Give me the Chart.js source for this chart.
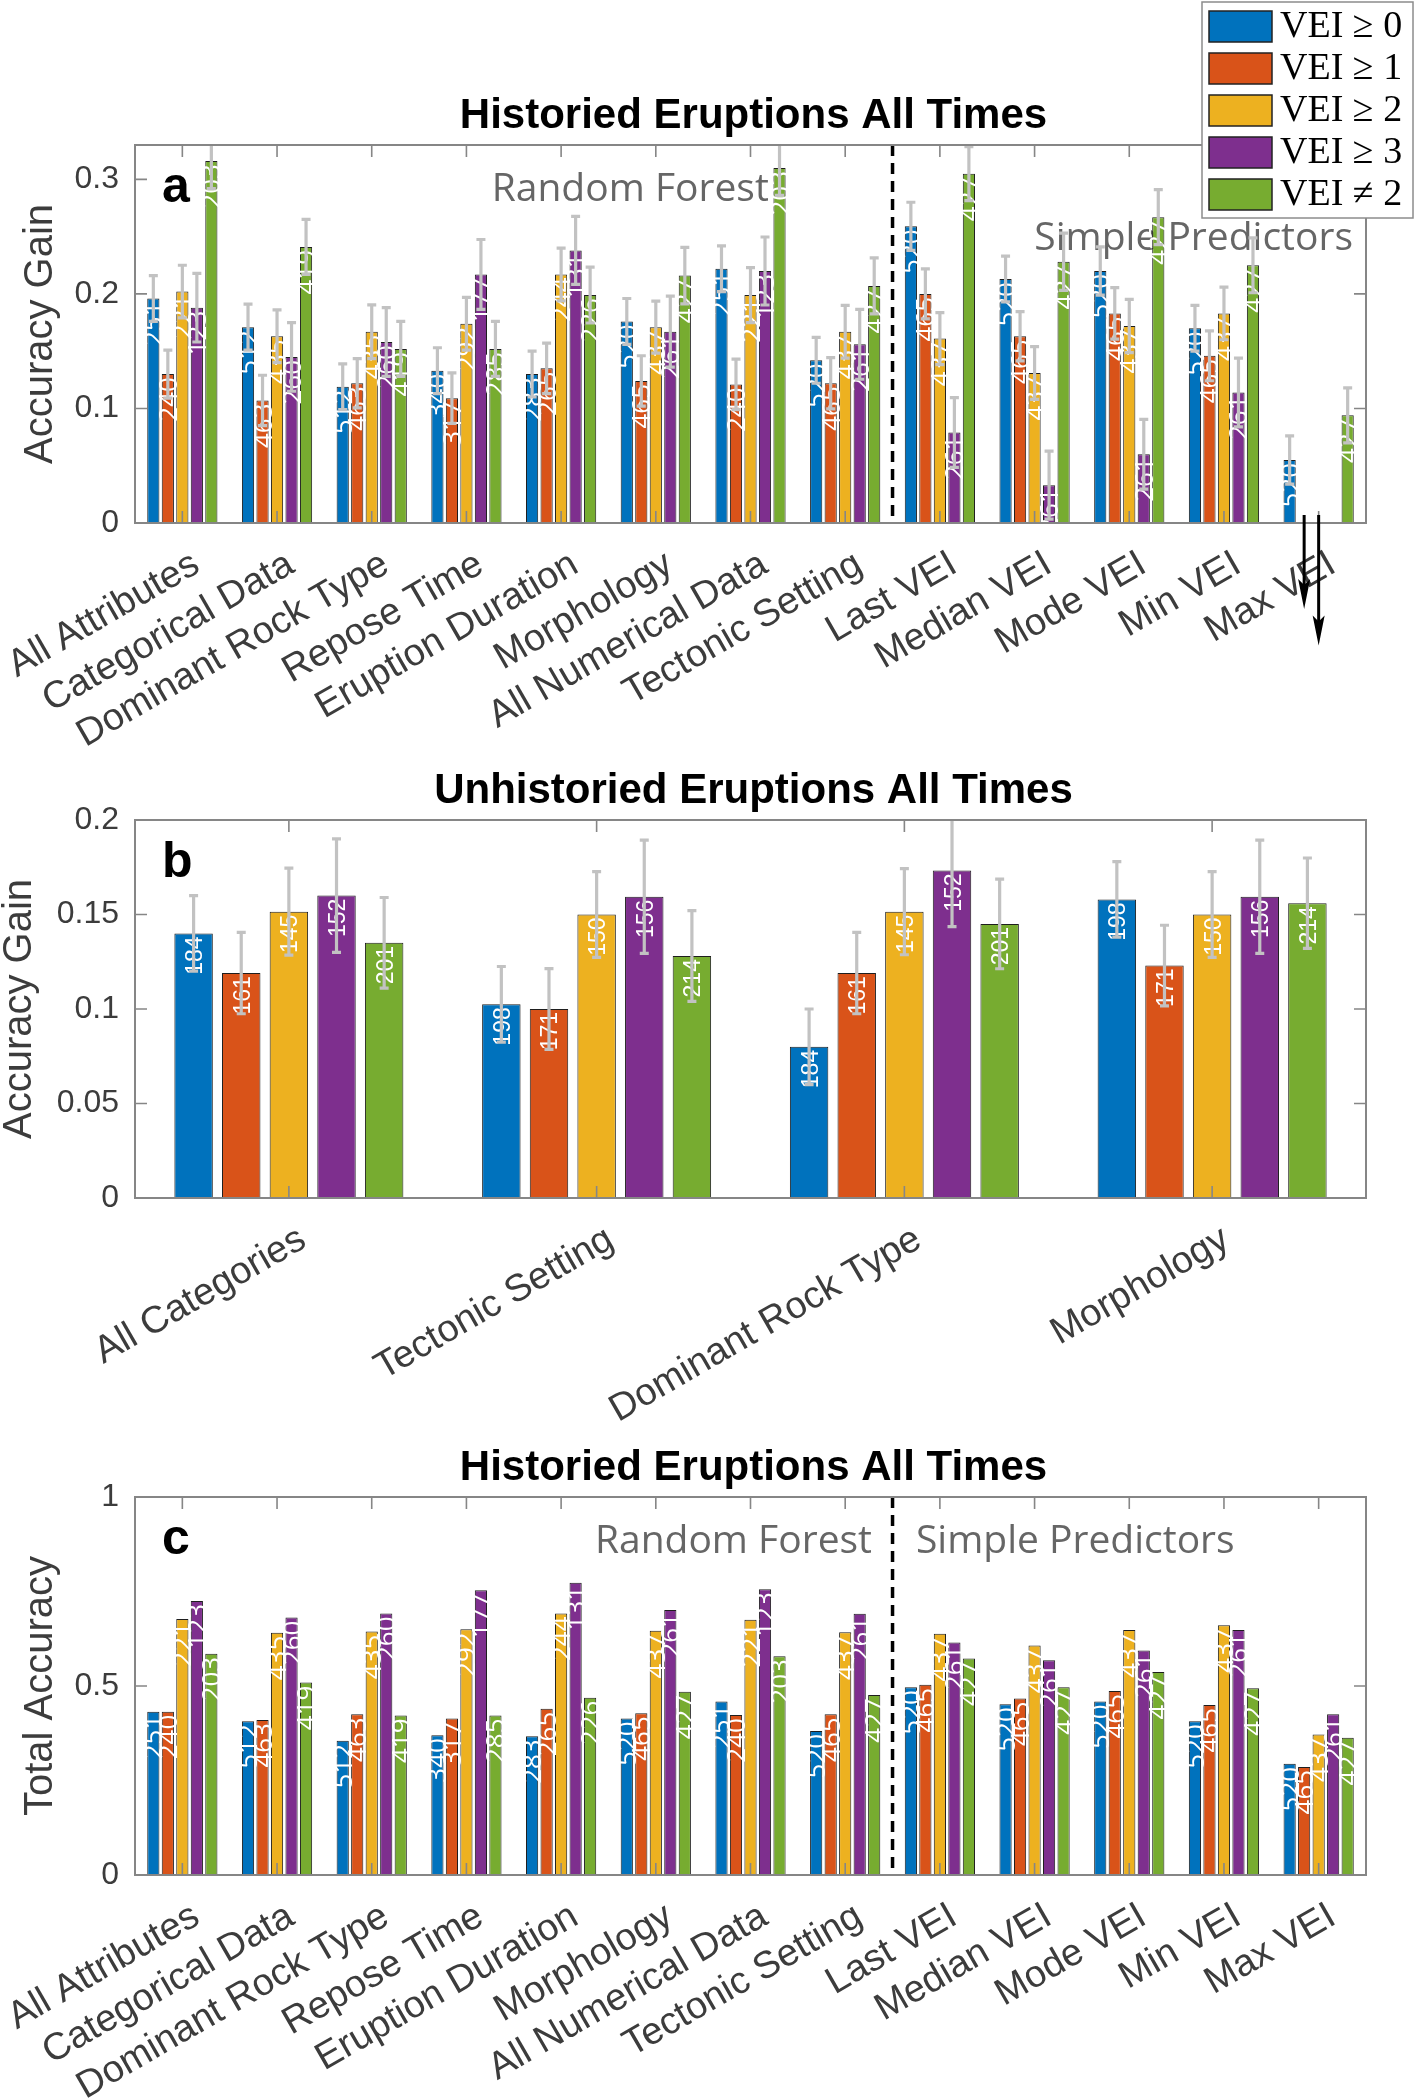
<!DOCTYPE html>
<html>
<head>
<meta charset="utf-8">
<script src="https://cdn.jsdelivr.net/npm/chart.js@4.4.1/dist/chart.umd.min.js"></script>
<style>
  html, body { margin:0; padding:0; background:#ffffff; }
  #wrap { position:relative; width:1416px; height:2100px; }
  canvas { position:absolute; left:0; }
</style>
</head>
<body>
<div id="wrap">
  <canvas id="chartA" width="1416" height="770" style="top:0px"></canvas>
  <canvas id="chartB" width="1416" height="670" style="top:770px"></canvas>
  <canvas id="chartC" width="1416" height="660" style="top:1440px"></canvas>
</div>
<script>
// ---------------- DATA ----------------
const catsA = ['All Attributes','Categorical Data','Dominant Rock Type','Repose Time','Eruption Duration','Morphology','All Numerical Data','Tectonic Setting','Last VEI','Median VEI','Mode VEI','Min VEI','Max VEI'];
const catsB = ['All Categories','Tectonic Setting','Dominant Rock Type','Morphology'];
const seriesNames = ['VEI \u2265 0','VEI \u2265 1','VEI \u2265 2','VEI \u2265 3','VEI \u2260 2'];
const seriesColors = ['#0072BD','#D95319','#EDB120','#7E2F8E','#77AC30'];

// Panel a: accuracy gain (historied eruptions)
const gainA0 = [0.196,0.171,0.119,0.133,0.130,0.176,0.222,0.142,0.259,0.213,0.220,0.170,0.055];
const gainA1 = [0.130,0.107,0.122,0.109,0.135,0.124,0.121,0.122,0.200,0.163,0.183,0.146,null];
const gainA2 = [0.202,0.163,0.167,0.174,0.217,0.171,0.199,0.167,0.161,0.131,0.172,0.183,null];
const gainA3 = [0.188,0.145,0.158,0.217,0.238,0.167,0.220,0.156,0.079,0.033,0.060,0.114,null];
const gainA4 = [0.316,0.241,0.152,0.152,0.199,0.216,0.310,0.207,0.305,0.228,0.267,0.225,0.094];
const errA0 = [0.020,0.020,0.020,0.020,0.020,0.020,0.020,0.020,0.021,0.020,0.021,0.020,0.021];
const errA1 = [0.021,0.022,0.0215,0.022,0.022,0.022,0.022,0.0224,0.0218,0.0215,0.0224,0.0218,null];
const errA2 = [0.023,0.023,0.0235,0.023,0.023,0.0227,0.024,0.023,0.0227,0.023,0.0233,0.023,null];
const errA3 = [0.030,0.030,0.030,0.0305,0.0297,0.031,0.0297,0.0305,0.0305,0.0297,0.0305,0.030,null];
const errA4 = [0.024,0.024,0.024,0.024,0.0244,0.0247,0.024,0.0244,0.0235,0.025,0.024,0.024,0.024];
const countA0 = [251,512,512,340,283,520,251,520,520,520,520,520,520];
const countA1 = [240,463,463,317,265,465,240,465,465,465,465,465,465];
const countA2 = [221,435,435,292,244,437,221,437,437,437,437,437,437];
const countA3 = [123,260,260,177,131,261,123,261,261,261,261,261,261];
const countA4 = [203,419,419,285,226,427,203,427,427,427,427,427,427];
// Max VEI: off-scale negative values shown as arrows (arrow tip values)
const maxVeiArrowTip = [null,-0.075,-0.107,null,null];

// Panel b: accuracy gain (unhistoried eruptions)
const gainB0 = [0.140,0.1025,0.080,0.158];
const gainB1 = [0.119,0.100,0.119,0.123];
const gainB2 = [0.1515,0.150,0.1515,0.150];
const gainB3 = [0.160,0.1594,0.1733,0.1594];
const gainB4 = [0.135,0.128,0.145,0.156];
const errB0 = [0.020,0.020,0.020,0.020];
const errB1 = [0.0215,0.0214,0.0215,0.0213];
const errB2 = [0.023,0.0227,0.0228,0.0227];
const errB3 = [0.030,0.030,0.0297,0.030];
const errB4 = [0.024,0.024,0.0237,0.0239];
const countB0 = [184,198,184,198];
const countB1 = [161,171,161,171];
const countB2 = [145,150,145,150];
const countB3 = [152,156,152,156];
const countB4 = [201,214,201,214];

// Panel c: total accuracy (historied eruptions)
const totC0 = [0.432,0.407,0.355,0.370,0.367,0.414,0.459,0.381,0.497,0.452,0.459,0.407,0.294];
const totC1 = [0.432,0.410,0.425,0.414,0.440,0.428,0.423,0.425,0.503,0.467,0.487,0.450,0.286];
const totC2 = [0.677,0.641,0.644,0.650,0.692,0.646,0.675,0.642,0.638,0.607,0.648,0.661,0.372];
const totC3 = [0.725,0.681,0.692,0.753,0.773,0.701,0.756,0.691,0.615,0.568,0.594,0.648,0.425];
const totC4 = [0.585,0.509,0.422,0.422,0.469,0.485,0.579,0.476,0.573,0.497,0.537,0.494,0.363];

const yTicksA = [0,0.1,0.2,0.3];
const yTicksB = [0,0.05,0.1,0.15,0.2];
const yTicksC = [0,0.5,1];

// ---------------- RENDERING ----------------
const PLOT_LEFT = 135, PLOT_RIGHT = 1366;
const AXIS_GRAY = '#868686';
const TEXT_GRAY = '#3c3c3c';
const PANELS = {};

const panelPlugin = {
  id: 'panelDecor',
  beforeDatasetsDraw(chart) {
    const P = PANELS[chart.canvas.id]; if (!P) return;
    const ctx = chart.ctx, ca = chart.chartArea, x = chart.scales.x, y = chart.scales.y;
    ctx.save();
    if (P.divider != null) {
      const px = x.getPixelForValue(P.divider);
      ctx.setLineDash([11, 7]);
      ctx.lineWidth = 3.5; ctx.strokeStyle = '#000';
      ctx.beginPath(); ctx.moveTo(px, ca.top); ctx.lineTo(px, ca.bottom); ctx.stroke();
      ctx.setLineDash([]);
    }
    (P.notes || []).forEach(n => {
      ctx.font = '39px "Open Sans"'; ctx.fillStyle = '#666666';
      ctx.textAlign = 'center'; ctx.textBaseline = 'alphabetic';
      ctx.fillText(n.text, x.getPixelForValue(n.x), y.getPixelForValue(n.y));
    });
    ctx.restore();
  },
  afterDatasetsDraw(chart) {
    const P = PANELS[chart.canvas.id]; if (!P) return;
    const ctx = chart.ctx, ca = chart.chartArea, x = chart.scales.x, y = chart.scales.y;
    // count labels (white, rotated)
    chart.data.datasets.forEach((ds, di) => {
      const meta = chart.getDatasetMeta(di);
      meta.data.forEach((el, i) => {
        const v = ds.data[i], n = ds.counts ? ds.counts[i] : null;
        if (v == null || n == null) return;
        ctx.save();
        ctx.translate(el.x, el.y + P.labelGap);
        ctx.rotate(-Math.PI / 2);
        ctx.font = P.labelFont; ctx.fillStyle = '#ffffff';
        ctx.textAlign = 'right'; ctx.textBaseline = 'alphabetic';
        ctx.fillText(String(n), 0, P.labelShift);
        ctx.restore();
      });
    });
    // error bars
    ctx.save();
    ctx.beginPath(); ctx.rect(ca.left, ca.top, ca.right - ca.left, ca.bottom - ca.top); ctx.clip();
    ctx.strokeStyle = '#c2c2c2'; ctx.lineWidth = 3.2;
    chart.data.datasets.forEach((ds, di) => {
      if (!ds.errors) return;
      const meta = chart.getDatasetMeta(di);
      meta.data.forEach((el, i) => {
        const v = ds.data[i], e = ds.errors[i];
        if (v == null || e == null) return;
        const yt = y.getPixelForValue(v + e), yb = y.getPixelForValue(v - e);
        ctx.beginPath();
        ctx.moveTo(el.x, yt); ctx.lineTo(el.x, yb);
        ctx.moveTo(el.x - 4.5, yt); ctx.lineTo(el.x + 4.5, yt);
        ctx.moveTo(el.x - 4.5, yb); ctx.lineTo(el.x + 4.5, yb);
        ctx.stroke();
      });
    });
    ctx.restore();
    // axes box and inward ticks
    ctx.save();
    ctx.strokeStyle = AXIS_GRAY; ctx.lineWidth = 2;
    ctx.strokeRect(ca.left, ca.top, ca.right - ca.left, ca.bottom - ca.top);
    ctx.lineWidth = 1.6;
    ctx.beginPath();
    chart.data.labels.forEach((l, i) => {
      const px = x.getPixelForValue(i);
      ctx.moveTo(px, ca.bottom); ctx.lineTo(px, ca.bottom - 12);
      ctx.moveTo(px, ca.top); ctx.lineTo(px, ca.top + 12);
    });
    y.ticks.forEach(t => {
      const py = y.getPixelForValue(t.value);
      ctx.moveTo(ca.left, py); ctx.lineTo(ca.left + 12, py);
      ctx.moveTo(ca.right, py); ctx.lineTo(ca.right - 12, py);
    });
    ctx.stroke();
    ctx.restore();
  },
  afterDraw(chart) {
    const P = PANELS[chart.canvas.id]; if (!P) return;
    const ctx = chart.ctx, ca = chart.chartArea, y = chart.scales.y;
    ctx.save();
    // title
    ctx.fillStyle = '#000'; ctx.font = 'bold 42px "Liberation Sans"';
    ctx.textAlign = 'center'; ctx.textBaseline = 'alphabetic';
    ctx.fillText(P.title, (ca.left + ca.right) / 2 + 3, ca.top - 17);
    // panel letter
    ctx.font = 'bold 50px "Liberation Sans"'; ctx.textAlign = 'left';
    ctx.fillText(P.letter, ca.left + 27, ca.top + 57);
    // y axis title
    ctx.save();
    ctx.translate(ca.left - P.yTitleGap, (ca.top + ca.bottom) / 2);
    ctx.rotate(-Math.PI / 2);
    ctx.fillStyle = TEXT_GRAY; ctx.font = '40px "Liberation Sans"';
    ctx.textAlign = 'center'; ctx.textBaseline = 'alphabetic';
    ctx.fillText(P.yTitle, 0, 0);
    ctx.restore();
    // arrows for off-scale values
    if (P.arrows) {
      ctx.strokeStyle = '#000'; ctx.fillStyle = '#000'; ctx.lineWidth = 3;
      P.arrows.tips.forEach((tip, di) => {
        if (tip == null) return;
        const el = chart.getDatasetMeta(di).data[P.arrows.index];
        const x0 = el.x, y0 = ca.bottom - 8, y1 = y.getPixelForValue(tip);
        ctx.beginPath(); ctx.moveTo(x0, y0); ctx.lineTo(x0, y1 - 14); ctx.stroke();
        ctx.beginPath();
        ctx.moveTo(x0, y1);
        ctx.lineTo(x0 - 6, y1 - 30);
        ctx.lineTo(x0, y1 - 24);
        ctx.lineTo(x0 + 6, y1 - 30);
        ctx.closePath(); ctx.fill();
      });
    }
    // legend
    if (P.legend) {
      const lx = chart.width - 214, ly = 2, lw = 211, lh = 216;
      ctx.fillStyle = '#fff'; ctx.fillRect(lx, ly, lw, lh);
      ctx.strokeStyle = '#8c8c8c'; ctx.lineWidth = 1.5; ctx.strokeRect(lx, ly, lw, lh);
      chart.data.datasets.forEach((ds, i) => {
        const sy = ly + 9 + i * 42;
        ctx.fillStyle = ds.backgroundColor; ctx.fillRect(lx + 7, sy, 63, 31);
        ctx.strokeStyle = '#222'; ctx.lineWidth = 1.5; ctx.strokeRect(lx + 7, sy, 63, 31);
        ctx.fillStyle = '#000'; ctx.font = '38px "Liberation Serif"';
        ctx.textAlign = 'left'; ctx.textBaseline = 'alphabetic';
        ctx.fillText(ds.label, lx + 78, sy + 26);
      });
    }
    ctx.restore();
  }
};

function buildChart(id, p) {
  const cv = document.getElementById(id);
  const W = cv.width, H = cv.height;
  PANELS[id] = p.panel;
  return new Chart(cv, {
    type: 'bar',
    data: {
      labels: p.cats,
      datasets: p.series.map((vals, k) => ({
        label: seriesNames[k],
        data: vals,
        errors: p.errs ? p.errs[k] : null,
        counts: p.counts[k],
        backgroundColor: seriesColors[k],
        borderColor: '#1e1e1e',
        borderWidth: 1,
        categoryPercentage: p.catPct,
        barPercentage: p.barPct
      }))
    },
    options: {
      responsive: false, animation: false, events: [], devicePixelRatio: 1,
      layout: { autoPadding: false, padding: { left: 0, right: W - PLOT_RIGHT, top: p.top, bottom: 0 } },
      plugins: { legend: { display: false }, tooltip: { enabled: false }, title: { display: false } },
      scales: {
        x: {
          grid: { display: false, drawTicks: false }, border: { display: false },
          ticks: { autoSkip: false, minRotation: 30, maxRotation: 30, padding: 19, labelOffset: 14,
                   color: TEXT_GRAY, font: { size: 38, family: 'Liberation Sans' } },
          afterFit: s => { s.height = H - p.bottom; s.paddingLeft = 0; s.paddingRight = 0; s.paddingTop = 0; s.paddingBottom = 0; }
        },
        y: {
          min: p.yMin, max: p.yMax,
          grid: { display: false, drawTicks: false }, border: { display: false },
          afterBuildTicks: s => { s.ticks = p.yTicks.map(v => ({ value: v })); },
          ticks: { padding: 16, color: TEXT_GRAY, font: { size: 32, family: 'Liberation Sans' },
                   callback: v => String(+Number(v).toFixed(3)) },
          afterFit: s => { s.width = PLOT_LEFT; s.paddingTop = 0; s.paddingBottom = 0; s.paddingLeft = 0; s.paddingRight = 0; }
        }
      }
    },
    plugins: [panelPlugin]
  });
}

buildChart('chartA', {
  cats: catsA,
  series: [gainA0, gainA1, gainA2, gainA3, gainA4],
  errs: [errA0, errA1, errA2, errA3, errA4],
  counts: [countA0, countA1, countA2, countA3, countA4],
  yMin: 0, yMax: 0.33, yTicks: yTicksA,
  top: 145, bottom: 523, catPct: 0.766, barPct: 0.84,
  panel: {
    title: 'Historied Eruptions All Times', letter: 'a', yTitle: 'Accuracy Gain', yTitleGap: 83,
    divider: 7.5,
    notes: [{ text: 'Random Forest', x: 4.73, y: 0.281 }, { text: 'Simple Predictors', x: 10.68, y: 0.238 }],
    labelFont: '26px "Open Sans"', labelGap: 3, labelShift: 9,
    arrows: { index: 12, tips: maxVeiArrowTip },
    legend: true
  }
});

buildChart('chartB', {
  cats: catsB,
  series: [gainB0, gainB1, gainB2, gainB3, gainB4],
  errs: [errB0, errB1, errB2, errB3, errB4],
  counts: [countB0, countB1, countB2, countB3, countB4],
  yMin: 0, yMax: 0.2, yTicks: yTicksB,
  top: 50, bottom: 428, catPct: 0.774, barPct: 0.807,
  panel: {
    title: 'Unhistoried Eruptions All Times', letter: 'b', yTitle: 'Accuracy Gain', yTitleGap: 104,
    labelFont: '23px "Liberation Sans"', labelGap: 3, labelShift: 8.5
  }
});

buildChart('chartC', {
  cats: catsA,
  series: [totC0, totC1, totC2, totC3, totC4],
  errs: null,
  counts: [countA0, countA1, countA2, countA3, countA4],
  yMin: 0, yMax: 1, yTicks: yTicksC,
  top: 57, bottom: 435, catPct: 0.766, barPct: 0.84,
  panel: {
    title: 'Historied Eruptions All Times', letter: 'c', yTitle: 'Total Accuracy', yTitleGap: 83,
    divider: 7.5,
    notes: [{ text: 'Random Forest', x: 5.82, y: 0.852 }, { text: 'Simple Predictors', x: 9.43, y: 0.852 }],
    labelFont: '26px "Open Sans"', labelGap: 3, labelShift: 9
  }
});
</script>
</body>
</html>
